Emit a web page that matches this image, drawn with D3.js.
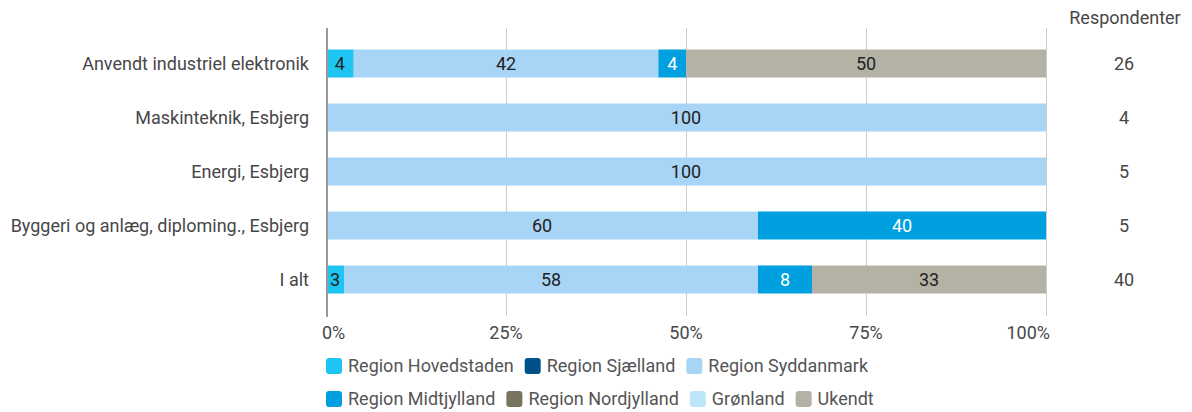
<!DOCTYPE html>
<html><head><meta charset="utf-8">
<script src="https://cdn.jsdelivr.net/npm/d3@7/dist/d3.min.js"></script>
<style>
body{margin:0;background:#fff;font-family:Roboto,"Noto Sans",sans-serif;}
</style></head>
<body><svg id="c" width="1192" height="412"></svg>
<script>
const categories = ["Anvendt industriel elektronik","Maskinteknik, Esbjerg","Energi, Esbjerg","Byggeri og anlæg, diploming., Esbjerg","I alt"];
const seriesNames = ["Region Hovedstaden","Region Sjælland","Region Syddanmark","Region Midtjylland","Region Nordjylland","Grønland","Ukendt"];
const seriesColors = ["#1ec4f2","#00508a","#a8d5f5","#009fe0","#77745f","#bde6fb","#b3b2a5"];
const labelColors = ["#222","#fff","#222","#fff","#fff","#222","#222"];
// percentages per series (rows = categories)
const hovedstaden = [3.85, 0, 0, 0, 2.5];
const sjaelland   = [0, 0, 0, 0, 0];
const syddanmark  = [42.31, 100, 100, 60, 57.5];
const midtjylland = [3.85, 0, 0, 40, 7.5];
const nordjylland = [0, 0, 0, 0, 0];
const groenland   = [0, 0, 0, 0, 0];
const ukendt      = [50, 0, 0, 0, 32.5];
const respondents = [26, 4, 5, 5, 40];
const tickValues = [0, 25, 50, 75, 100];
const tickLabels = ["0%","25%","50%","75%","100%"];

const seriesValues = [hovedstaden, sjaelland, syddanmark, midtjylland, nordjylland, groenland, ukendt];
const FS = 18;
const svg = d3.select("#c");
const x = d3.scaleLinear().domain([0,100]).range([326,1046]);
const y = d3.scaleBand().domain(categories).range([36.5,306.5]).paddingInner(26/54).paddingOuter(13/54);

// gridlines
svg.append("g").selectAll("line").data(tickValues.slice(1)).join("line")
  .attr("x1",d=>x(d)+0.5).attr("x2",d=>x(d)+0.5).attr("y1",28).attr("y2",316)
  .attr("stroke","#cccccc").attr("stroke-width",1);

// stacked bars
const rows = categories.map((c,i)=>{
  let acc=0;
  return seriesValues.map((s,j)=>{const v=s[i];const seg={cat:c,j,v,x0:acc,x1:acc+v};acc+=v;return seg;}).filter(d=>d.v>0);
});
const g = svg.append("g");
rows.forEach(segs=>{
  g.selectAll(null).data(segs).join("rect")
    .attr("x",d=>x(d.x0)).attr("width",d=>x(d.x1)-x(d.x0))
    .attr("y",d=>y(d.cat)).attr("height",y.bandwidth())
    .attr("fill",d=>seriesColors[d.j]);
  g.selectAll(null).data(segs).join("text")
    .attr("x",d=>(x(d.x0)+x(d.x1))/2).attr("y",d=>y(d.cat)+y.bandwidth()/2)
    .attr("dy","0.35em").attr("text-anchor","middle")
    .attr("font-size",FS).attr("fill",d=>labelColors[d.j])
    .text(d=>Math.round(d.v));
});

// axis line
svg.append("line").attr("x1",327).attr("x2",327).attr("y1",28).attr("y2",317)
  .attr("stroke","#9a9a9a").attr("stroke-width",2);

// category labels
svg.append("g").selectAll("text").data(categories).join("text")
  .attr("x",309).attr("y",d=>y(d)+y.bandwidth()/2).attr("dy","0.35em")
  .attr("text-anchor","end").attr("font-size",FS).attr("fill","#474747").text(d=>d);

// tick labels
svg.append("g").selectAll("text").data(tickValues).join("text")
  .attr("x",(d,i)=>i===0?x(d)-4:(i===tickValues.length-1?x(d)+4:x(d)))
  .attr("y",333).attr("dy","0.35em")
  .attr("text-anchor",(d,i)=>i===0?"start":(i===tickValues.length-1?"end":"middle"))
  .attr("font-size",FS).attr("fill","#474747").text((d,i)=>tickLabels[i]);

// respondents
svg.append("text").attr("x",1125).attr("y",18).attr("dy","0.35em").attr("text-anchor","middle")
  .attr("font-size",FS).attr("fill","#474747").text("Respondenter");
svg.append("g").selectAll("text").data(respondents).join("text")
  .attr("x",1124).attr("y",(d,i)=>y(categories[i])+y.bandwidth()/2).attr("dy","0.35em")
  .attr("text-anchor","middle").attr("font-size",FS).attr("fill","#474747").text(d=>d);

// legend
const legendRows = [[0,1,2],[3,4,5,6]];
const legendY = [366,399];
legendRows.forEach((idxs,r)=>{
  let cx = 326;
  idxs.forEach(j=>{
    const it = svg.append("g");
    it.append("rect").attr("x",cx).attr("y",legendY[r]-8).attr("width",16).attr("height",16)
      .attr("rx",3).attr("fill",seriesColors[j]);
    const t = it.append("text").attr("x",cx+22).attr("y",legendY[r]).attr("dy","0.35em")
      .attr("font-size",FS).attr("fill","#555").text(seriesNames[j]);
    cx += 22 + t.node().getComputedTextLength() + 11;
  });
});
</script></body></html>
